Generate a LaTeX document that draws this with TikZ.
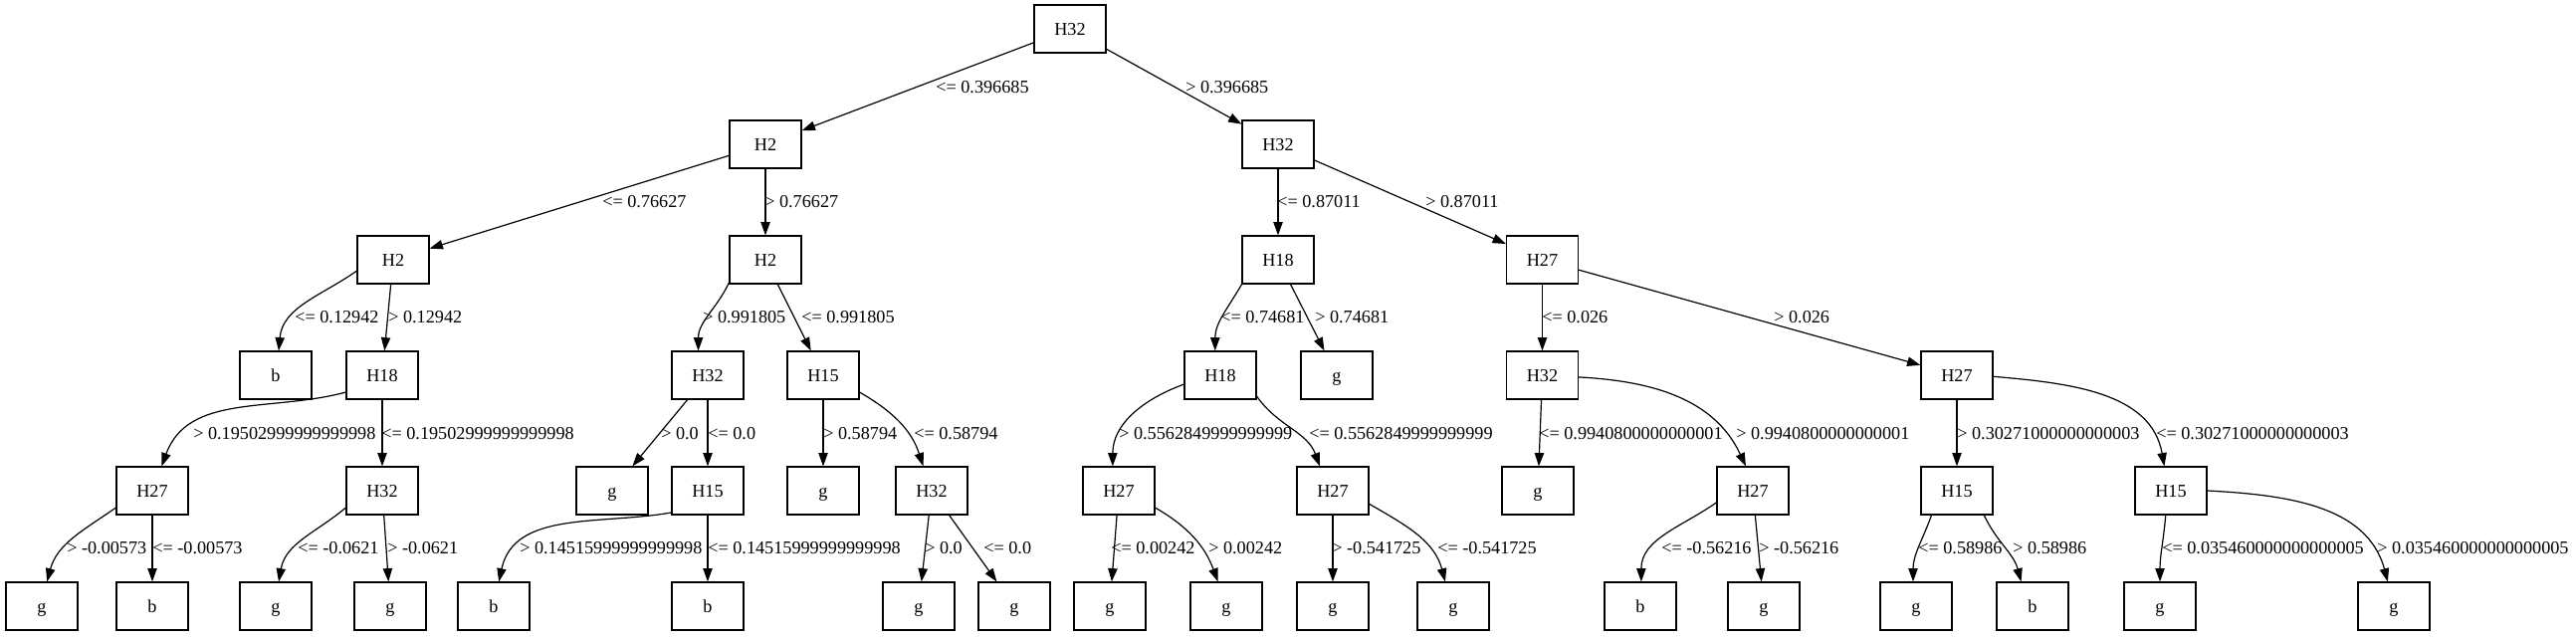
\documentclass[tikz,border=0pt]{standalone}
\usepackage{fontspec}
\setmainfont{Liberation Serif}
\usetikzlibrary{arrows.meta}

\tikzset{
	nodebox/.style={draw, line width=0.9pt, minimum width=54pt, minimum height=36pt, inner sep=0pt,
		text height=9.2pt, text depth=0pt, font=\fontsize{13.65pt}{16pt}\selectfont},
	cond/.style={anchor=west, inner sep=0pt, text height=9.2pt, text depth=0pt,
		font=\fontsize{13.65pt}{16pt}\selectfont},
	branch/.style={line width=0.9pt, -{Triangle[length=10pt,width=7pt]}},
}

\begin{document}
\begin{tikzpicture}[x=0.75pt, y=0.75pt]
			%%%%% START %%%%%
			\useasboundingbox (0,0) rectangle (2588,-639);

			% level 0 - 2
			\node[nodebox] (n) at (1075,-29) {H32};
			\node[nodebox] (nl) at (769,-145) {H2};
			\node[nodebox] (nr) at (1284,-145) {H32};
			\node[nodebox] (nll) at (395,-261) {H2};
			\node[nodebox] (nlr) at (769,-261) {H2};
			\node[nodebox] (nrl) at (1284,-261) {H18};
			\node[nodebox] (nrr) at (1549.5,-261) {H27};

			% level 3
			\node[nodebox] (nlll) at (277,-377) {b};
			\node[nodebox] (nllr) at (384,-377) {H18};
			\node[nodebox] (nlrl) at (711,-377) {H32};
			\node[nodebox] (nlrr) at (827,-377) {H15};
			\node[nodebox] (nrll) at (1226,-377) {H18};
			\node[nodebox] (nrlr) at (1343,-377) {g};
			\node[nodebox] (nrrl) at (1549.5,-377) {H32};
			\node[nodebox] (nrrr) at (1966,-377) {H27};

			% level 4
			\node[nodebox] (nllrl) at (153,-493) {H27};
			\node[nodebox] (nllrr) at (384,-493) {H32};
			\node[nodebox] (nlrll) at (615,-493) {g};
			\node[nodebox] (nlrlr) at (711,-493) {H15};
			\node[nodebox] (nlrrl) at (827,-493) {g};
			\node[nodebox] (nlrrr) at (936,-493) {H32};
			\node[nodebox] (nrlll) at (1124,-493) {H27};
			\node[nodebox] (nrllr) at (1339,-493) {H27};
			\node[nodebox] (nrrll) at (1545,-493) {g};
			\node[nodebox] (nrrlr) at (1761,-493) {H27};
			\node[nodebox] (nrrrl) at (1966,-493) {H15};
			\node[nodebox] (nrrrr) at (2181,-493) {H15};

			% level 5
			\node[nodebox] (nllrll) at (42,-609) {g};
			\node[nodebox] (nllrlr) at (153,-609) {b};
			\node[nodebox] (nllrrl) at (277,-609) {g};
			\node[nodebox] (nllrrr) at (392,-609) {g};
			\node[nodebox] (nlrlrl) at (496,-609) {b};
			\node[nodebox] (nlrlrr) at (711,-609) {b};
			\node[nodebox] (nlrrrl) at (923,-609) {g};
			\node[nodebox] (nlrrrr) at (1019,-609) {g};
			\node[nodebox] (nrllll) at (1115,-609) {g};
			\node[nodebox] (nrlllr) at (1232,-609) {g};
			\node[nodebox] (nrllrl) at (1339,-609) {g};
			\node[nodebox] (nrllrr) at (1460,-609) {g};
			\node[nodebox] (nrrlrl) at (1648,-609) {b};
			\node[nodebox] (nrrlrr) at (1772,-609) {g};
			\node[nodebox] (nrrrll) at (1925,-609) {g};
			\node[nodebox] (nrrrlr) at (2042,-609) {b};
			\node[nodebox] (nrrrrl) at (2170,-609) {g};
			\node[nodebox] (nrrrrr) at (2405,-609) {g};

			% branches
			\draw[branch] (n) -- (nl);
			\draw[branch] (n) -- (nr);
			\draw[branch] (nl) -- (nll);
			\draw[branch] (nl) -- (nlr);
			\draw[branch] (nr) -- (nrl);
			\draw[branch] (nr) -- (nrr);

			\draw[branch] (nll.197) to[out=215,in=85] (nlll.83);
			\draw[branch] (nll) -- (nllr);
			\draw[branch] (nlr.212) to[out=245,in=90] (nlrl.111);
			\draw[branch] (nlr) -- (nlrr);
			\draw[branch] (nrl.214) to[out=240,in=90] (nrll.102);
			\draw[branch] (nrl) -- (nrlr);
			\draw[branch] (nrr) -- (nrrl);
			\draw[branch] (nrr) -- (nrrr);

			\draw[branch] (nllr.205) to[out=195,in=70] (nllrl.69);
			\draw[branch] (nllr) -- (nllrr);
			\draw[branch] (nlrl) -- (nlrll);
			\draw[branch] (nlrl) -- (nlrlr);
			\draw[branch] (nlrr) -- (nlrrl);
			\draw[branch] (nlrr.-25) to[out=-30,in=108] (nlrrr.109);
			\draw[branch] (nrll.194) to[out=200,in=90] (nrlll.104);
			\draw[branch] (nrll.-30) to[out=-55,in=110] (nrllr.118);
			\draw[branch] (nrrl) -- (nrrll);
			\draw[branch] (nrrl.-3) to[out=-3,in=115] (nrrlr.106);
			\draw[branch] (nrrr) -- (nrrrl);
			\draw[branch] (nrrr.-2) to[out=-5,in=100] (nrrrr.105);

			\draw[branch] (nllrl.205) to[out=215,in=75] (nllrll.78);
			\draw[branch] (nllrl) -- (nllrlr);
			\draw[branch] (nllrr.205) to[out=220,in=80] (nllrrl.83);
			\draw[branch] (nllrr) -- (nllrrr);
			\draw[branch] (nlrlr.211) to[out=190,in=78] (nlrlrl.78);
			\draw[branch] (nlrlr) -- (nlrlrr);
			\draw[branch] (nlrrr) -- (nlrrrl);
			\draw[branch] (nlrrr) -- (nlrrrr);
			\draw[branch] (nrlll) -- (nrllll);
			\draw[branch] (nrlll.-25) to[out=-30,in=110] (nrlllr.109);
			\draw[branch] (nrllr) -- (nrllrl);
			\draw[branch] (nrllr.-20) to[out=-30,in=105] (nrllrr.108);
			\draw[branch] (nrrlr.198) to[out=215,in=90] (nrrlrl.88);
			\draw[branch] (nrrlr) -- (nrrlrr);
			\draw[branch] (nrrrl.224) to[out=250,in=90] (nrrrll.97);
			\draw[branch] (nrrrl.-42) to[out=-65,in=105] (nrrrlr.115);
			\draw[branch] (nrrrr.258) to[out=265,in=90] (nrrrrl.90);
			\draw[branch] (nrrrr.0) to[out=-3,in=105] (nrrrrr.104);

			% split conditions
			\node[cond] (c1) at (940,-87) {<= 0.396685};
			\node[cond] (c2) at (1191,-87) {> 0.396685};

			\node[cond] (c3) at (605,-202) {<= 0.76627};
			\node[cond] (c4) at (768,-202) {> 0.76627};
			\node[cond] (c5) at (1283,-202) {<= 0.87011};
			\node[cond] (c6) at (1432,-202) {> 0.87011};

			\node[cond] (c7) at (296,-318) {<= 0.12942};
			\node[cond] (c8) at (390,-318) {> 0.12942};
			\node[cond] (c9) at (706,-318) {> 0.991805};
			\node[cond] (c10) at (805,-318) {<= 0.991805};
			\node[cond] (c11) at (1226,-318) {<= 0.74681};
			\node[cond] (c12) at (1321,-318) {> 0.74681};
			\node[cond] (c13) at (1549,-318) {<= 0.026};
			\node[cond] (c14) at (1782,-318) {> 0.026};

			\node[cond] (c15) at (194,-435) {> 0.19502999999999998};
			\node[cond] (c16) at (383,-435) {<= 0.19502999999999998};
			\node[cond] (c17) at (664,-435) {> 0.0};
			\node[cond] (c18) at (711,-435) {<= 0.0};
			\node[cond] (c19) at (827,-435) {> 0.58794};
			\node[cond] (c20) at (918,-435) {<= 0.58794};
			\node[cond] (c21) at (1124,-435) {> 0.5562849999999999};
			\node[cond] (c22) at (1315,-435) {<= 0.5562849999999999};
			\node[cond] (c23) at (1546,-435) {<= 0.9940800000000001};
			\node[cond] (c24) at (1744,-435) {> 0.9940800000000001};
			\node[cond] (c25) at (1966,-435) {> 0.30271000000000003};
			\node[cond] (c26) at (2166,-435) {<= 0.30271000000000003};

			\node[cond] (c27) at (67,-550) {> -0.00573};
			\node[cond] (c28) at (153,-550) {<= -0.00573};
			\node[cond] (c29) at (299,-550) {<= -0.0621};
			\node[cond] (c30) at (389,-550) {> -0.0621};
			\node[cond] (c31) at (522,-550) {> 0.14515999999999998};
			\node[cond] (c32) at (711,-550) {<= 0.14515999999999998};
			\node[cond] (c33) at (929,-550) {> 0.0};
			\node[cond] (c34) at (988,-550) {<= 0.0};
			\node[cond] (c35) at (1116,-550) {<= 0.00242};
			\node[cond] (c36) at (1214,-550) {> 0.00242};
			\node[cond] (c37) at (1338,-550) {> -0.541725};
			\node[cond] (c38) at (1444,-550) {<= -0.541725};
			\node[cond] (c39) at (1669,-550) {<= -0.56216};
			\node[cond] (c40) at (1767,-550) {> -0.56216};
			\node[cond] (c41) at (1927,-550) {<= 0.58986};
			\node[cond] (c42) at (2022,-550) {> 0.58986};
			\node[cond] (c43) at (2172,-550) {<= 0.035460000000000005};
			\node[cond] (c44) at (2388,-550) {> 0.035460000000000005};

			%%%%% END %%%%%
\end{tikzpicture}
\end{document}
